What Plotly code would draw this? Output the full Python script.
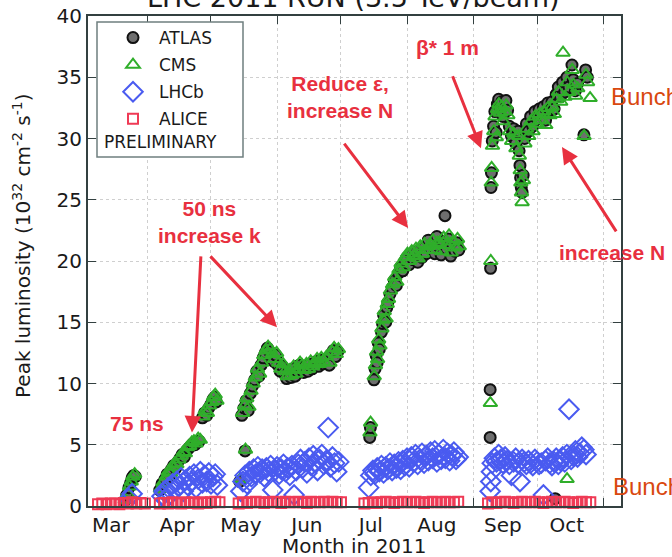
import plotly.graph_objects as go

# ---------------- data (day of year 2011, peak luminosity in 1e32 cm^-2 s^-1) ----------------
month_labels = ["Mar", "Apr", "May", "Jun", "Jul", "Aug", "Sep", "Oct"]
month_label_day = [74, 105, 135, 166, 196, 227, 258, 288]
month_start_day = [91, 121, 152, 182, 213, 244, 274, 305]
y_tick_vals = [0, 5, 10, 15, 20, 25, 30, 35, 40]

atlas_day = [80.5, 81.5, 82.5, 83.3, 84.0, 84.8, 85.5,
             97, 98, 99.5, 100.5, 101.5, 102.5, 103.5, 104.5, 105.5, 106.5, 107.5, 108.5, 109.5, 110.5,
             111.5, 112.5, 113.5, 114.5, 115.5, 117, 118, 119, 120, 121, 122, 122.8, 123.5,
             134.5, 137, 135.5, 136.5, 137.5, 138.5, 139.5, 140.5, 141.5, 142.5, 143.5, 144.5, 145.5,
             146.5, 147.5, 148.5, 149.5, 150.5, 151.5, 152.5, 153.5, 154.5, 155.5, 156.5, 157.5, 158.5,
             159.5, 160.5, 161.5, 162.5, 163.5, 164.5, 165.5, 166.5, 167.5, 168.5, 169.5, 170.5, 171.5,
             172.5, 173.5, 175, 176.5, 177.5, 178.5, 179.5, 180.5,
             195.5, 195.8, 197.5, 198, 198.5, 199, 199.5, 200, 201, 201.5, 202, 203, 203.5, 204, 205,
             206, 207, 208, 209, 210, 211, 212, 213, 214, 215, 216, 217, 218, 219, 220, 221, 222, 223,
             224, 225, 226, 227, 228, 229, 230, 230.8, 231.5, 232.5, 233.5, 234.5, 235.5, 236.5, 237.3,
             252.0, 252.0, 252.2, 252.4, 252.6, 253.0, 253.6, 254.2, 254.8, 255.4, 256.0, 256.7, 257.4,
             258.0, 258.7, 259.4, 260.2, 261.0, 262.0, 263.0, 264.0, 265.2, 265.6, 266.0, 266.3, 266.6,
             267.0, 267.5, 268.2, 269.0, 270, 271, 272, 273, 274, 275, 276, 277, 278, 279, 280, 281, 282,
             282.5, 283, 284, 285, 286, 287, 288, 289, 290.4, 291, 292, 293, 296.0, 296.8, 297.6]
atlas_lumi = [0.4, 0.9, 1.5, 1.9, 2.3, 2.5, 2.4,
              1.3, 1.8, 2.2, 2.6, 2.4, 3.0, 3.3, 3.1, 3.6, 3.9, 4.2, 4.0, 4.5, 4.7,
              4.9, 5.1, 5.0, 5.2, 5.3, 7.2, 7.6, 7.4, 8.0, 8.3, 8.7, 8.9, 8.5,
              2.0, 4.5, 7.4, 8.0, 8.6, 7.8, 9.2, 9.8, 10.3, 11.0, 10.6, 11.5, 12.1,
              12.5, 12.9, 12.6, 12.2, 11.8, 12.3, 11.5, 11.0, 11.4, 10.8, 10.4, 10.9, 10.5,
              11.2, 10.6, 11.0, 11.5, 11.3, 10.9, 11.4, 11.0, 11.6, 11.2, 11.5, 11.8, 11.4,
              11.9, 11.6, 12.0, 11.5, 12.4, 12.7, 12.2, 12.6,
              5.6, 6.4, 10.3, 11.2, 12.3, 11.7, 13.3, 12.8, 14.2, 14.9, 15.6, 15.0, 16.2, 16.6, 17.3,
              17.8, 18.4, 18.0, 19.0, 19.5, 19.2, 20.0, 20.3, 19.7, 20.5, 20.1, 20.7, 19.9, 20.9, 20.3, 21.1, 20.6, 21.7,
              21.0, 21.4, 20.6, 22.0, 21.2, 20.5, 21.6, 23.7, 21.0, 21.8, 20.4, 21.3, 20.8, 21.5, 20.9,
              5.6, 9.5, 19.4, 26.0, 27.2, 29.8, 31.0, 32.2, 30.5, 32.8, 33.2, 32.5, 33.0,
              31.8, 32.6, 33.1, 32.3, 31.0, 30.2, 30.8, 29.6, 30.6, 29.0, 27.8, 26.8, 26.0,
              25.6, 27.0, 30.0, 31.2, 30.6, 31.8, 31.0, 32.2, 31.6, 32.4, 31.9, 32.6, 31.5, 32.9, 32.3, 33.0, 32.4,
              0.6, 33.6, 34.2, 33.4, 34.6, 33.8, 35.0, 34.2, 36.0, 34.8, 33.9, 34.5, 30.3, 35.6, 35.0]

cms_day = [80.8, 81.8, 82.8, 83.6, 84.3, 85.2,
           97.3, 98.5, 100, 101, 102, 103, 104, 105, 106, 107, 108, 109, 110, 111, 112, 113, 114, 115, 116,
           117.3, 118.3, 119.3, 120.3, 121.3, 122.2, 123, 123.8,
           134.8, 137.2, 135.8, 136.8, 137.8, 138.8, 139.8, 140.8, 141.8, 142.8, 143.8, 144.8, 145.8,
           146.8, 147.8, 148.8, 149.8, 150.8, 151.8, 152.8, 153.8, 154.8, 155.8, 156.8, 157.8, 158.8,
           159.8, 160.8, 161.8, 162.8, 163.8, 164.8, 165.8, 166.8, 167.8, 168.8, 169.8, 170.8, 171.8,
           172.8, 173.8, 175.2, 176.8, 177.8, 178.8, 179.8, 180.8,
           195.6, 195.9, 197.6, 198.2, 198.7, 199.2, 199.7, 200.3, 201.2, 201.7, 202.3, 203.2, 203.7,
           204.3, 205.2, 206.2, 207.2, 208.2, 209.2, 210.2, 211.2, 212.2, 213.2, 214.2, 215.2, 216.2,
           217.2, 218.2, 219.2, 220.2, 221.2, 222.2, 223.2, 224.2, 225.2, 226.2, 227.2, 228.2, 229.2,
           230.2, 231.7, 232.7, 233.7, 234.7, 235.7, 236.7, 237.5,
           252.1, 252.3, 252.5, 252.7, 253.1, 253.7, 254.3, 254.9, 255.5, 256.1, 256.8, 257.5, 258.1,
           258.8, 259.5, 260.3, 261.1, 262.1, 263.1, 264.1, 265.3, 265.7, 266.1, 266.4, 266.7, 267.0,
           267.6, 268.3, 269.1, 270.1, 271.1, 272.1, 273.1, 274.1, 275.1, 276.1, 277.1, 278.1, 279.1,
           280.1, 281.1, 282.1, 283.1, 284.1, 285.1, 286.2, 287.1, 288.1, 288.1, 289.1, 290.5, 291.1,
           292.1, 293.1, 296.1, 296.9, 297.7, 298.9]
cms_lumi = [0.5, 1.0, 1.6, 2.0, 2.4, 2.6,
            1.4, 1.9, 2.4, 2.8, 2.7, 3.2, 3.5, 3.4, 3.8, 4.1, 4.4, 4.3, 4.8, 4.9, 5.2, 5.3, 5.1, 5.5, 5.4,
            7.3, 7.8, 7.6, 8.2, 8.5, 8.9, 9.1, 8.6,
            2.2, 4.6, 7.6, 8.2, 8.8, 8.1, 9.4, 10.0, 10.5, 11.2, 10.8, 11.7, 12.3,
            12.7, 13.0, 12.8, 12.4, 12.0, 12.5, 11.7, 11.2, 11.6, 11.0, 10.6, 11.1, 10.7,
            11.4, 10.8, 11.2, 11.7, 11.5, 11.1, 11.6, 11.2, 11.8, 11.4, 11.7, 12.0, 11.6,
            12.1, 11.8, 12.2, 11.7, 12.6, 12.9, 12.4, 12.8,
            6.0, 6.8, 10.6, 11.5, 12.6, 12.0, 13.6, 13.1, 14.5, 15.2, 15.9, 15.3, 16.5,
            16.9, 17.6, 18.1, 18.7, 18.3, 19.3, 19.8, 19.5, 20.3, 20.6, 20.0, 20.8, 20.4,
            21.0, 20.2, 21.2, 20.6, 21.4, 20.9, 21.2, 21.3, 21.7, 20.9, 21.5, 21.5, 20.8,
            21.9, 21.3, 22.1, 20.7, 21.6, 21.1, 21.8, 21.2,
            8.4, 20.0, 26.4, 27.6, 29.4, 30.6, 31.8, 30.1, 32.4, 32.8, 32.1, 32.6, 31.4,
            32.2, 32.7, 31.9, 30.6, 29.8, 30.4, 29.2, 30.2, 28.6, 27.4, 26.4, 25.6, 24.8,
            26.6, 29.6, 30.8, 30.2, 31.4, 30.6, 31.8, 31.2, 32.0, 31.5, 32.2, 31.1, 32.5,
            31.9, 32.6, 32.0, 33.2, 33.8, 33.0, 37.0, 33.4, 34.6, 2.2, 33.8, 35.6, 34.4,
            33.5, 34.1, 30.2, 35.2, 34.6, 33.3]

lhcb_day = [82.5, 84,
            98, 99, 100, 101, 102, 103, 104, 105, 106, 107, 108, 109, 110, 111, 112, 113, 114, 115,
            116, 117, 118, 119, 120, 121, 122, 123, 124,
            135, 136, 137, 138, 139, 140, 141, 142, 143, 144, 145, 146, 147, 148, 149, 150, 151, 152,
            153, 154, 155, 156, 157, 158, 159, 160, 161, 162, 163, 164, 165, 166, 167, 168, 169, 170,
            171, 172, 173, 174, 175, 176, 177, 178, 179, 180, 181,
            195, 196, 197, 198, 199, 200, 201, 202, 203, 204, 205, 206, 207, 208, 209, 210, 211, 212,
            213, 214, 215, 216, 217, 218, 219, 220, 221, 222, 223, 224, 225, 226, 227, 228, 229, 230,
            231, 232, 233, 234, 235, 236, 237,
            252, 252.3, 252.6, 253, 254, 255, 256, 257, 258, 259, 260, 261, 262, 263, 264, 265, 266,
            267, 268, 269, 270, 271, 272, 273, 274, 275, 276, 277, 278, 279, 280, 281, 282, 283, 284,
            285, 286, 287, 288, 289, 290, 291, 292, 293, 294, 295, 296, 297]
lhcb_lumi = [0.6, 1.0,
             0.8, 1.2, 0.6, 1.5, 1.0, 1.8, 1.3, 2.0, 1.6, 2.3, 1.2, 2.1, 1.7, 2.4, 2.0, 2.6, 1.5, 2.2,
             2.8, 1.9, 2.5, 2.0, 2.7, 1.8, 2.4, 2.6, 1.7,
             1.2, 2.0, 2.5, 1.8, 2.8, 2.4, 3.0, 2.6, 3.2, 2.7, 3.0, 2.4, 3.1, 2.8, 3.3, 1.3, 2.9, 3.2,
             2.6, 3.0, 3.4, 2.8, 3.1, 2.5, 3.3, 0.9, 2.9, 3.4, 3.8, 3.1, 3.6, 2.7, 3.9, 3.3, 4.1, 3.5,
             2.9, 3.8, 4.2, 3.4, 3.7, 6.4, 3.2, 4.0, 3.5, 2.8, 3.6,
             1.5, 2.5, 2.9, 2.6, 3.1, 2.8, 3.3, 2.7, 3.2, 3.0, 3.5, 2.9, 3.4, 3.1, 3.6, 3.0, 3.7, 3.3,
             3.9, 3.2, 4.0, 3.6, 4.2, 3.4, 3.8, 4.3, 3.5, 4.1, 3.7, 4.4, 3.9, 4.5, 3.6, 4.2, 3.8, 4.6,
             3.9, 4.3, 3.7, 4.1, 4.4, 3.8, 4.0,
             1.2, 2.0, 2.8, 3.5, 3.9, 3.6, 4.2, 3.8, 3.5, 4.0, 3.7, 3.4, 2.5, 3.6, 3.9, 3.5, 2.0,
             3.8, 3.6, 3.4, 3.7, 3.5, 3.3, 3.8, 3.6, 3.4, 3.5, 0.9, 3.7, 3.9, 3.5, 3.3, 3.6, 3.9, 3.4,
             3.7, 4.0, 3.6, 4.2, 7.9, 3.8, 4.1, 4.5, 4.0, 4.3, 4.8, 4.6, 4.2]

alice_day = [68, 70, 72, 74, 76, 78, 80, 82, 84, 86, 88, 90,
             97, 99, 101, 103, 105, 107, 109, 111, 113, 115, 117, 119, 121, 123, 125,
             134, 136, 138, 140, 142, 144, 146, 148, 150, 152, 154, 156, 158, 160, 162, 164, 166, 168,
             170, 172, 174, 176, 178, 180, 182,
             193, 195, 197, 199, 201, 203, 205, 207, 209, 211, 213, 215, 217, 219, 221, 223, 225, 227,
             229, 231, 233, 235, 237,
             251, 253, 255, 257, 259, 261, 263, 265, 267, 269, 271, 273, 275, 277, 279, 281, 283, 285,
             287, 289, 291, 293, 295, 297, 299]
alice_lumi = [0.15, 0.2, 0.15, 0.2, 0.2, 0.15, 0.25, 0.2, 0.3, 0.2, 0.25, 0.2,
              0.2, 0.25, 0.2, 0.3, 0.25, 0.2, 0.3, 0.25, 0.3, 0.2, 0.3, 0.25, 0.3, 0.35, 0.3,
              0.2, 0.3, 0.25, 0.3, 0.35, 0.3, 0.25, 0.3, 0.35, 0.3, 0.25, 0.35, 0.3, 0.3, 0.35, 0.3, 0.25, 0.35,
              0.3, 0.3, 0.35, 0.3, 0.35, 0.3, 0.3,
              0.2, 0.25, 0.3, 0.25, 0.3, 0.35, 0.3, 0.25, 0.3, 0.35, 0.3, 0.3, 0.35, 0.3, 0.25, 0.3, 0.35, 0.3,
              0.3, 0.35, 0.3, 0.3, 0.35,
              0.2, 0.3, 0.25, 0.3, 0.35, 0.3, 0.25, 0.3, 0.35, 0.3, 0.3, 0.35, 0.3, 0.25, 0.3, 0.35, 0.3, 0.3,
              0.35, 0.3, 0.25, 0.3, 0.35, 0.3, 0.3]

# ---------------- layout geometry (pixels) ----------------
W, H = 672, 557
ML, MR, MT, MB = 88, 51, 16, 51
PW, PH = W - ML - MR, H - MT - MB


def px(xp):
    return (xp - ML) / PW


def py(yp):
    return (H - MB - yp) / PH


RED = "#e8303f"
ORANGE = "#d9480f"
TXT = "#1a1a1a"
AXC = "#334040"

fig = go.Figure()
fig.add_trace(go.Scatter(x=atlas_day, y=atlas_lumi, mode="markers", name="ATLAS", legendgroup="a",
                         marker=dict(symbol="circle", size=11, color="#6e6e6e",
                                     line=dict(color="#111111", width=2))))
fig.add_trace(go.Scatter(x=cms_day, y=cms_lumi, mode="markers", name="CMS", legendgroup="c",
                         marker=dict(symbol="triangle-up-open", size=12, color="#2fae2a",
                                     line=dict(width=2))))
fig.add_trace(go.Scatter(x=lhcb_day, y=lhcb_lumi, mode="markers", name="LHCb", legendgroup="l",
                         marker=dict(symbol="diamond-open", size=15, color="#4a5bf0",
                                     line=dict(width=2))))
fig.add_trace(go.Scatter(x=alice_day, y=alice_lumi, mode="markers", name="ALICE", legendgroup="k",
                         cliponaxis=False,
                         marker=dict(symbol="square-open", size=10, color="#ef3a55",
                                     line=dict(width=2))))

annotations = []
# cut-off title at the top (the reference is cropped through it)
annotations.append(dict(xref="paper", yref="paper", x=px(353), y=py(15), xanchor="center",
                        yanchor="bottom", text="LHC 2011 RUN (3.5 TeV/beam)", showarrow=False,
                        font=dict(family="DejaVu Sans", size=27, color=TXT)))
# axis titles
annotations.append(dict(xref="paper", yref="paper", x=px(22), y=py(246), xanchor="center",
                        yanchor="middle", textangle=-90,
                        text="Peak luminosity (10<sup>32</sup> cm<sup>-2</sup> s<sup>-1</sup>)",
                        showarrow=False, font=dict(family="DejaVu Sans", size=20, color=TXT)))
annotations.append(dict(xref="paper", yref="paper", x=px(354), y=py(546), xanchor="center",
                        yanchor="middle", text="Month in 2011", showarrow=False,
                        font=dict(family="DejaVu Sans", size=20, color=TXT)))
# PRELIMINARY in legend box
annotations.append(dict(xref="paper", yref="paper", x=px(102), y=py(142), xanchor="left",
                        yanchor="middle", text="PRELIMINARY", showarrow=False,
                        font=dict(family="DejaVu Sans", size=17, color=TXT)))

bold = dict(family="Liberation Sans", size=21, color=RED)
annotations += [
    dict(x=86.3, y=6.7, text="<b>75 ns</b>", showarrow=False, font=bold),
    dict(x=120.1, y=23.2, text="<b>50 ns<br>increase k</b>", showarrow=False, font=bold),
    dict(x=181.6, y=33.4, text="<b>Reduce ε,<br>increase N</b>", showarrow=False, font=bold),
    dict(x=232.2, y=37.4, text="<b>β* 1 m</b>", showarrow=False, font=bold),
    dict(x=283.4, y=20.7, xanchor="left", text="<b>increase N</b>", showarrow=False, font=bold),
    dict(x=307.6, y=33.4, xanchor="left", text="Bunches", showarrow=False,
         font=dict(family="Liberation Sans", size=24, color=ORANGE)),
    dict(x=308.6, y=1.6, xanchor="left", text="Bunches", showarrow=False,
         font=dict(family="Liberation Sans", size=24, color=ORANGE)),
]
# arrows: (tail day, tail lumi, tip day, tip lumi)
arrows = [(116.3, 20.5, 112.1, 6.0), (120.1, 20.5, 152.0, 14.6), (183.0, 29.7, 213.5, 22.7),
          (234.1, 35.2, 247.7, 29.2), (311.6, 22.3, 285.7, 29.3)]
for tx, ty, hx, hy in arrows:
    annotations.append(dict(x=hx, y=hy, ax=tx, ay=ty, axref="x", ayref="y", text="",
                            showarrow=True, arrowhead=2, arrowsize=1.1, arrowwidth=3,
                            arrowcolor=RED))

shapes = [dict(type="rect", xref="paper", yref="paper", x0=px(97), x1=px(243), y0=py(157), y1=py(22),
               fillcolor="white", line=dict(color="#6f7f7f", width=1.5), layer="above")]

fig.update_layout(
    width=W, height=H, margin=dict(l=ML, r=MR, t=MT, b=MB, autoexpand=False),
    paper_bgcolor="white", plot_bgcolor="white",
    font=dict(family="DejaVu Sans", size=20, color=TXT),
    showlegend=True,
    legend=dict(x=px(107), y=py(20), xanchor="left", yanchor="top", bgcolor="rgba(0,0,0,0)",
                borderwidth=0, itemwidth=42, tracegroupgap=2,
                font=dict(family="DejaVu Sans", size=17, color=TXT)),
    annotations=annotations, shapes=shapes,
    xaxis=dict(range=[63.3, 313.4], tickmode="array", tickvals=month_label_day, ticktext=month_labels,
               ticks="", showgrid=False, zeroline=False, automargin=False,
               showline=True, linecolor=AXC, linewidth=2, mirror="ticks",
               tickfont=dict(size=20, color=TXT),
               minor=dict(tickmode="array", tickvals=month_start_day, ticks="inside", ticklen=8,
                          tickcolor=AXC, tickwidth=1, showgrid=True, gridcolor="#cfcfcf",
                          griddash="dot", gridwidth=1)),
    yaxis=dict(range=[0, 40], tickmode="array", tickvals=y_tick_vals, ticks="inside", ticklen=8,
               tickcolor=AXC, showgrid=True, gridcolor="#cfcfcf", griddash="dot", automargin=False,
               zeroline=False, showline=True, linecolor=AXC, linewidth=2, mirror="ticks",
               tickfont=dict(size=20, color=TXT)),
)

fig.write_html("out.html")
